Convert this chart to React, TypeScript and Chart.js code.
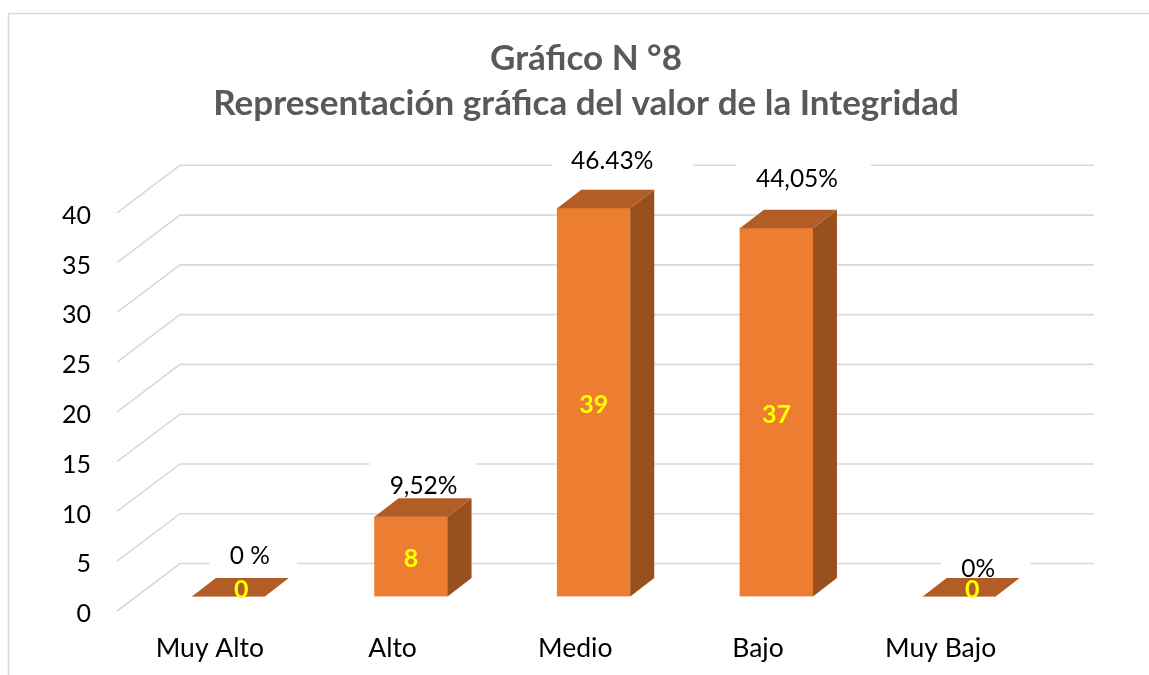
import React, { useEffect, useRef } from "react";
import { Chart, registerables } from "chart.js";

Chart.register(...registerables);

const categories = ["Muy Alto", "Alto", "Medio", "Bajo", "Muy Bajo"];
const counts = [0, 8, 39, 37, 0];
const percentLabels = ["0 %", "9,52%", "46.43%", "44,05%", "0%"];
const titleLines = ["Gráfico N °8", "Representación gráfica del valor de la Integridad"];

// Placement of the percent callouts, relative to the top of each bar.
const percentPlacement = [
  { dx: 21.5, dy: -40, boxL: -40, boxR: 47 },
  { dx: 12.5, dy: -31, boxL: -54, boxR: 53 },
  { dx: 18.5, dy: -47, boxL: -60, boxR: 81 },
  { dx: 20.5, dy: -49, boxL: -61, boxR: 74 },
  { dx: 19, dy: -27, boxL: -37, boxR: 52 },
];

const FONT = "Lato, Carlito, sans-serif";
const GRID = "#d9d9d9";
const FRONT = "#ED7D31";
const TOP = "#B25D25";
const SIDE = "#98501E";
const DEPTH_X = 24;
const DEPTH_Y = 18.5;

const wall3d = {
  id: "wall3d",
  beforeDraw(chart: any) {
    const { ctx, width, height } = chart;
    ctx.save();
    ctx.strokeStyle = GRID;
    ctx.lineWidth = 1.5;
    ctx.beginPath();
    ctx.moveTo(8.5, height);
    ctx.lineTo(8.5, 13.5);
    ctx.lineTo(width, 13.5);
    ctx.stroke();
    ctx.restore();
  },
  beforeDatasetsDraw(chart: any) {
    const { ctx, chartArea, scales } = chart;
    const y = scales.y;
    const x = scales.x;
    ctx.save();
    ctx.strokeStyle = GRID;
    ctx.lineWidth = 1.6;
    for (const t of y.ticks) {
      const p = y.getPixelForValue(t.value);
      ctx.beginPath();
      ctx.moveTo(chartArea.left - 20, p + 14.5);
      ctx.lineTo(chartArea.left + 43, p - 33);
      ctx.lineTo(chartArea.right + 43.5, p - 33);
      ctx.stroke();
    }
    ctx.font = `24.5px ${FONT}`;
    ctx.textAlign = "center";
    ctx.textBaseline = "middle";
    percentLabels.forEach((label, i) => {
      const cx = x.getPixelForValue(i);
      const py = y.getPixelForValue(counts[i]);
      const pl = percentPlacement[i];
      const tx = cx + pl.dx;
      const ty = py + pl.dy;
      ctx.fillStyle = "#ffffff";
      ctx.fillRect(tx + pl.boxL, ty - 24, pl.boxR - pl.boxL, 48);
      ctx.fillStyle = "#000000";
      ctx.fillText(label, tx, ty);
    });
    ctx.restore();
  },
  afterDatasetsDraw(chart: any) {
    const { ctx } = chart;
    const meta = chart.getDatasetMeta(0);
    ctx.save();
    meta.data.forEach((bar: any, i: number) => {
      const { x, y, base, width } = bar.getProps(["x", "y", "base", "width"], true);
      const l = x - width / 2;
      const r = x + width / 2;
      if (base - y > 0.5) {
        ctx.fillStyle = SIDE;
        ctx.beginPath();
        ctx.moveTo(r, y);
        ctx.lineTo(r + DEPTH_X, y - DEPTH_Y);
        ctx.lineTo(r + DEPTH_X, base - DEPTH_Y);
        ctx.lineTo(r, base);
        ctx.closePath();
        ctx.fill();
      }
      ctx.fillStyle = TOP;
      ctx.beginPath();
      ctx.moveTo(l, y);
      ctx.lineTo(l + DEPTH_X, y - DEPTH_Y);
      ctx.lineTo(r + DEPTH_X, y - DEPTH_Y);
      ctx.lineTo(r, y);
      ctx.closePath();
      ctx.fill();
      ctx.fillStyle = "#FFFF00";
      ctx.font = `bold 25px ${FONT}`;
      ctx.textAlign = "center";
      ctx.textBaseline = "middle";
      const v = counts[i];
      if (v > 0) ctx.fillText(String(v), x, (y + base) / 2 + 2.5);
      else ctx.fillText(String(v), x + 13, y - 7);
    });
    ctx.restore();
  },
};

export default function App() {
  const ref = useRef<HTMLCanvasElement>(null);
  useEffect(() => {
    document.body.style.margin = "0";
    const chart = new Chart(ref.current as HTMLCanvasElement, {
      type: "bar",
      data: {
        labels: categories,
        datasets: [{ data: counts, backgroundColor: FRONT, barThickness: 73, yAxisID: "y" }],
      },
      plugins: [wall3d],
      options: {
        responsive: false,
        animation: false,
        layout: { padding: { left: 55, right: 32, top: 36.5, bottom: 0 } },
        plugins: {
          legend: { display: false },
          tooltip: { enabled: false },
          title: {
            display: true,
            text: titleLines,
            color: "#595959",
            font: { family: FONT, size: 35, weight: "bold", lineHeight: 1.286 },
            padding: { top: 0, bottom: 71.8 },
            fullSize: true,
          },
        },
        scales: {
          x: {
            grid: { display: false },
            border: { display: false },
            afterFit(s: any) { s.height = 78.5; },
            ticks: {
              color: "#000000",
              font: { family: FONT, size: 26.5 },
              labelOffset: -18.5,
              padding: 28,
              maxRotation: 0,
              autoSkip: false,
            },
          },
          y: {
            min: 0,
            max: 40,
            grid: { display: false },
            border: { display: false },
            afterFit(s: any) { s.width = 82; },
            ticks: {
              stepSize: 5,
              color: "#000000",
              font: { family: FONT, size: 25 },
              labelOffset: 17.5,
              padding: 38,
            },
          },
          gutter: {
            position: "right",
            grid: { display: false },
            border: { display: false },
            ticks: { display: false },
            afterFit(s: any) { s.width = 66.5; },
          },
        },
      },
    } as any);
    return () => chart.destroy();
  }, []);
  return <canvas ref={ref} width={1149} height={675} style={{ display: "block" }} />;
}
